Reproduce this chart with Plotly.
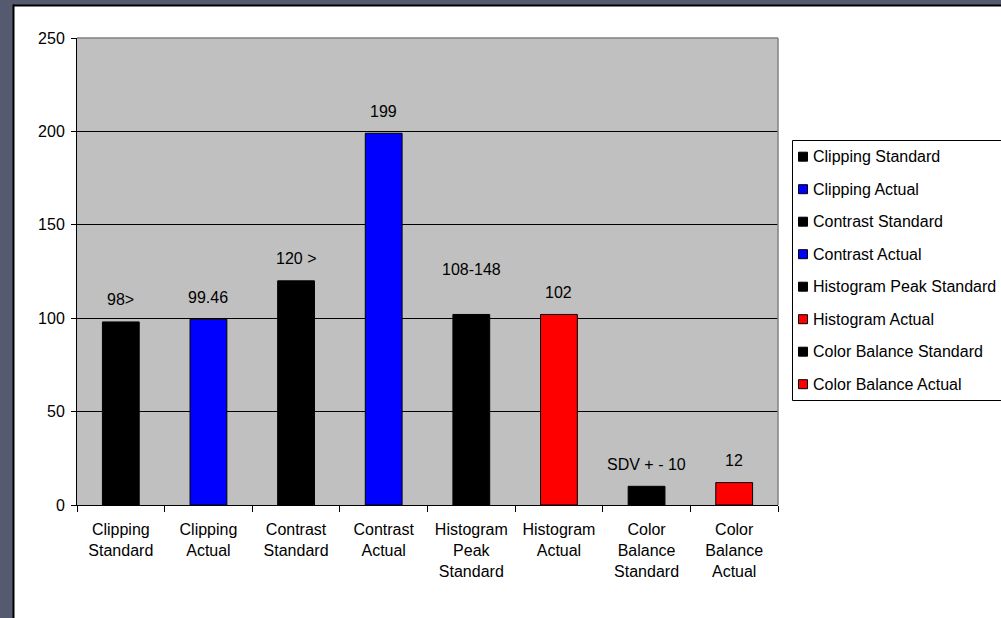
import plotly.graph_objects as go

# ---- data ----
categories = [
    "Clipping<br>Standard", "Clipping<br>Actual", "Contrast<br>Standard", "Contrast<br>Actual",
    "Histogram<br>Peak<br>Standard", "Histogram<br>Actual", "Color<br>Balance<br>Standard",
    "Color<br>Balance<br>Actual",
]
series_names = [
    "Clipping Standard", "Clipping Actual", "Contrast Standard", "Contrast Actual",
    "Histogram Peak Standard", "Histogram Actual", "Color Balance Standard", "Color Balance Actual",
]
values = [98, 99.46, 120, 199, 102, 102, 10, 12]
value_labels = ["98>", "99.46", "120 >", "199", "108-148", "102", "SDV + - 10", "12"]
series_colors = ["#000000", "#0000ff", "#000000", "#0000ff", "#000000", "#ff0000", "#000000", "#ff0000"]
y_ticks = [0, 50, 100, 150, 200, 250]

FONT = "Liberation Sans, Arial, sans-serif"
FS = 16
W, H = 1001, 618
L, R, T, B = 77, 778, 38, 505  # plot area in pixels


def px(x):
    return (x - L) / (R - L)


def py(y):
    return (B - y) / (B - T)


fig = go.Figure()
for cat, name, val, col in zip(categories, series_names, values, series_colors):
    fig.add_trace(go.Bar(
        x=[cat], y=[val], name=name,
        marker=dict(color=col, line=dict(color="#000000", width=1)),
        showlegend=False, hoverinfo="skip",
    ))

shapes = []
annotations = []

# slide background strips and frame around the white chart sheet
slide = "#555a6e"
shapes.append(dict(type="rect", xref="paper", yref="paper", x0=px(-2), x1=px(13), y0=py(-2), y1=py(H + 2),
                   fillcolor=slide, line=dict(width=0), layer="below"))
shapes.append(dict(type="rect", xref="paper", yref="paper", x0=px(-2), x1=px(W + 2), y0=py(-2), y1=py(5),
                   fillcolor=slide, line=dict(width=0), layer="below"))
shapes.append(dict(type="line", xref="paper", yref="paper", x0=px(13.5), x1=px(13.5), y0=py(4.5), y1=py(H + 2),
                   line=dict(color="#000000", width=2)))
shapes.append(dict(type="line", xref="paper", yref="paper", x0=px(13), x1=px(W + 2), y0=py(5.5), y1=py(5.5),
                   line=dict(color="#000000", width=2)))

# gray plot-area border on top and right
shapes.append(dict(type="line", xref="paper", yref="paper", x0=0, x1=1, y0=1, y1=1,
                   line=dict(color="#808080", width=1.5)))
shapes.append(dict(type="line", xref="paper", yref="paper", x0=1, x1=1, y0=0, y1=1,
                   line=dict(color="#808080", width=1.5)))

# value labels above each bar
label_shift = [22, 22, 22, 22, 45, 22, 22, 22]
for cat, val, lab, sh in zip(categories, values, value_labels, label_shift):
    annotations.append(dict(x=cat, y=val, xref="x", yref="y", text=lab, showarrow=False,
                            yanchor="middle", yshift=sh, font=dict(family=FONT, size=FS, color="#000000")))

# legend box
shapes.append(dict(type="rect", xref="paper", yref="paper", x0=px(792.5), x1=px(W + 3), y0=py(140.5), y1=py(400.5),
                   fillcolor="#ffffff", line=dict(color="#000000", width=1)))
for i, (name, col) in enumerate(zip(series_names, series_colors)):
    cy = 156.7 + i * 32.5
    shapes.append(dict(type="rect", xref="paper", yref="paper", x0=px(798.5), x1=px(807.5),
                       y0=py(cy + 4.5), y1=py(cy - 4.5), fillcolor=col, line=dict(color="#000000", width=1)))
    annotations.append(dict(x=px(811), y=py(cy), xref="paper", yref="paper", text=name, showarrow=False,
                            xanchor="left", yanchor="middle", font=dict(family=FONT, size=FS, color="#000000")))

fig.update_layout(
    width=W, height=H,
    margin=dict(l=L, r=W - R, t=T, b=H - B, pad=0),
    paper_bgcolor="#ffffff", plot_bgcolor="#c0c0c0",
    barmode="overlay", bargap=0.58,
    font=dict(family=FONT, size=FS, color="#000000"),
    shapes=shapes, annotations=annotations,
    showlegend=False,
)
fig.update_xaxes(
    categoryorder="array", categoryarray=categories,
    showline=True, linecolor="#000000", linewidth=1,
    ticks="outside", tickson="boundaries", ticklen=6, tickcolor="#000000", tickwidth=1,
    tickangle=0, automargin=False,
    ticklabelstandoff=10, tickfont=dict(family=FONT, size=FS, color="#000000"),
    showgrid=False, zeroline=False,
)
fig.update_yaxes(
    range=[0, 250], tickvals=y_ticks, automargin=False,
    showline=True, linecolor="#000000", linewidth=1,
    ticks="outside", ticklen=5, tickcolor="#000000", tickwidth=1,
    showgrid=True, gridcolor="#000000", gridwidth=1,
    zeroline=False, tickfont=dict(family=FONT, size=FS, color="#000000"),
    ticklabelstandoff=3,
)

fig.write_html("out.html")
